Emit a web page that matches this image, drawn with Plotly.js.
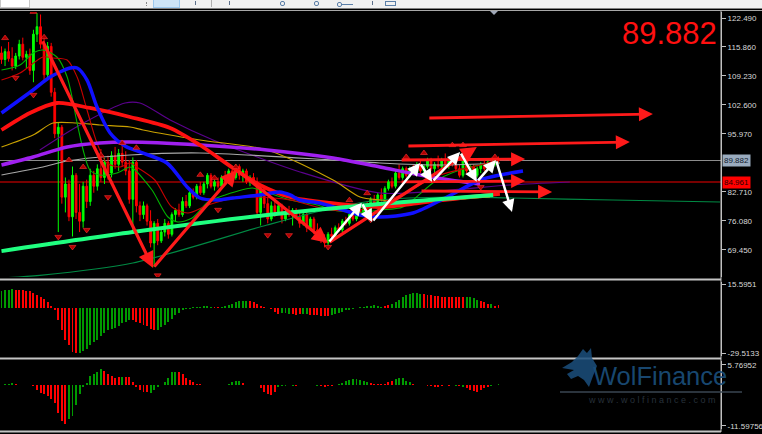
<!DOCTYPE html>
<html><head><meta charset="utf-8">
<script src="https://cdn.plot.ly/plotly-3.0.1.min.js"></script>
<style>
html,body{margin:0;padding:0;background:#000;width:762px;height:434px;overflow:hidden;}
#chart{position:absolute;left:0;top:0;width:762px;height:434px;}
#tb{position:absolute;left:0;top:0;width:762px;height:8px;background:#f0f0f0;border-bottom:1px solid #808080;z-index:5;}
.b{position:absolute;top:0;}
</style></head><body>
<div id="chart"></div>
<div id="tb">
  <div class="b" style="left:0;width:28px;height:7px;background:#fff;border:1px solid #c8c8c8;border-top:none"></div>
  <div class="b" style="left:146px;top:2px;width:2px;height:4px;border-left:1px dotted #888"></div>
  <div class="b" style="left:153px;width:25px;height:7px;background:#cde4f7;border:1px solid #9cc8ee;border-top:none"></div>
  <div class="b" style="left:195px;top:1px;width:1px;height:4px;background:#5b6f8a"></div>
  <div class="b" style="left:211px;width:1px;height:7px;background:#b0b0b0"></div>
  <div class="b" style="left:229px;top:1px;width:1px;height:4px;background:#5b6f8a"></div>
  <div class="b" style="left:280px;top:1px;width:3px;height:3px;border:1px solid #5b7fa8;border-radius:2px"></div>
  <div class="b" style="left:314px;top:1px;width:3px;height:3px;border:1px solid #5b7fa8;border-radius:2px"></div>
  <div class="b" style="left:337px;top:2px;width:3px;height:3px;border:1px solid #5b7fa8;border-radius:2px"></div>
  <div class="b" style="left:341px;top:4px;width:12px;height:1px;background:#5b7fa8"></div>
  <div class="b" style="left:372px;top:1px;width:1px;height:4px;background:#5b6f8a"></div>
  <div class="b" style="left:385px;top:1px;width:9px;height:3px;border:1px solid #5b7fa8"></div>
</div>
<script>
// ---------------- data ----------------
const open  = [114.5,113.0,114.8,113.2,111.5,113.8,116.5,113.5,114.2,110.5,118.8,120.5,116.5,109.5,116.0,105.5,96.0,97.5,81.5,84.5,
77.0,86.5,78.0,76.0,84.0,80.5,86.5,84.0,88.0,86.0,89.5,87.0,91.0,89.0,91.5,89.5,87.5,81.0,89.5,79.5,
77.5,79.5,76.0,71.0,75.5,71.5,73.5,75.5,73.0,77.5,78.5,77.5,80.5,79.5,82.5,81.5,84.0,82.5,84.5,86.5,
84.0,85.0,84.0,86.0,85.0,87.5,86.0,88.5,86.5,87.5,85.0,86.0,85.0,78.0,83.5,80.0,76.5,79.5,78.0,79.5,
76.5,78.0,77.5,78.5,77.0,75.5,77.5,74.5,76.5,74.0,73.0,72.0,71.0,73.0,72.5,74.5,74.0,76.0,75.5,77.5,
76.5,78.5,77.5,79.5,78.5,81.0,80.0,82.0,81.0,83.5,85.0,84.0,87.0,86.0,88.0,86.5,88.0,87.0,89.0,87.5,
88.5,90.0,88.0,89.0,88.5,90.0,89.0,90.0,89.0,88.0,86.5,91.5,87.5,88.5,86.5,88.0,89.0,88.0,89.5,89.0,90.2];
const high  = [116.0,115.5,117.0,115.8,114.5,117.5,118.0,115.0,115.5,119.8,123.6,123.3,118.5,117.0,116.8,106.5,98.5,98.0,86.0,85.5,
88.5,87.0,84.5,85.0,85.5,88.0,87.5,89.0,92.5,90.5,91.0,92.0,93.0,92.5,93.5,92.0,90.0,90.6,90.0,80.5,
80.5,80.0,78.5,76.0,76.5,74.0,76.5,76.0,78.0,79.0,80.0,81.5,82.0,83.0,83.5,84.5,85.0,85.0,87.0,87.0,
85.5,86.0,86.5,87.5,88.0,88.5,89.0,89.0,88.0,88.0,86.5,87.0,86.0,84.5,84.0,81.5,80.5,80.5,80.0,80.0,
78.5,79.5,79.0,79.0,78.5,78.0,78.0,77.0,77.0,75.5,74.0,73.0,73.5,74.5,75.0,75.5,76.5,77.0,78.0,78.5,
79.0,79.5,80.0,80.5,81.5,82.0,82.5,83.5,84.0,85.5,86.0,87.5,89.0,88.5,88.5,88.5,89.0,89.5,90.0,89.0,
90.5,90.5,89.5,91.0,90.5,91.5,90.5,91.0,90.0,89.0,92.0,92.0,89.0,89.0,88.5,89.5,90.0,90.0,90.5,90.5,90.8];
const low   = [112.0,111.5,112.5,110.5,110.8,113.0,112.8,111.0,109.5,107.8,117.0,115.5,108.0,108.5,104.5,95.0,73.5,80.0,78.0,76.0,
72.5,76.5,73.5,74.5,79.0,79.5,82.5,83.0,85.0,84.5,85.5,86.0,88.0,87.5,88.5,86.5,80.0,74.0,78.0,76.0,
76.5,75.0,70.0,65.5,70.5,71.0,72.5,72.0,72.5,76.0,77.0,77.0,79.0,79.0,81.0,81.0,82.0,82.0,83.5,83.5,
83.0,83.5,83.5,84.5,84.5,85.5,85.5,85.5,85.0,84.5,84.0,84.5,77.0,75.0,79.0,75.5,76.0,77.0,77.5,75.5,
76.0,77.0,75.0,76.5,74.5,75.0,73.5,74.0,73.0,72.5,71.0,70.0,70.5,72.0,72.0,73.5,73.5,75.0,75.0,76.0,
76.0,77.0,77.0,78.0,78.0,79.5,79.5,80.5,80.5,83.0,83.5,83.5,85.5,85.5,86.0,86.0,86.5,86.5,87.0,86.5,
88.0,87.5,87.0,88.0,88.0,88.5,88.0,88.5,87.5,86.0,86.0,87.0,86.5,86.0,86.0,87.0,87.5,87.5,88.5,88.5,89.3];
const close = [113.0,114.8,113.2,111.5,113.8,116.5,113.5,114.2,110.5,118.8,120.5,116.5,109.5,116.0,105.5,96.0,97.5,81.5,84.5,77.0,
86.5,78.0,76.0,84.0,80.5,86.5,84.0,88.0,86.0,89.5,87.0,91.0,89.0,91.5,89.5,87.5,81.0,89.5,79.5,77.5,
79.5,76.0,71.0,75.5,71.5,73.5,75.5,73.0,77.5,78.5,77.5,80.5,79.5,82.5,81.5,84.0,82.5,84.5,86.5,84.0,
85.0,84.0,86.0,85.0,87.5,86.0,88.5,86.5,87.5,85.0,86.0,85.0,78.0,83.5,80.0,76.5,79.5,78.0,79.5,76.5,
78.0,77.5,78.5,77.0,75.5,77.5,74.5,76.5,74.0,73.0,72.0,71.0,73.0,72.5,74.5,74.0,76.0,75.5,77.5,76.5,
78.5,77.5,79.5,78.5,81.0,80.0,82.0,81.0,83.5,85.0,84.0,87.0,86.0,88.0,86.5,88.0,87.0,89.0,87.5,88.5,
90.0,88.0,89.0,88.5,90.0,89.0,90.0,89.0,88.0,86.5,91.5,87.5,88.5,86.5,88.0,89.0,88.0,89.5,89.0,90.2,89.882];

// moving averages: bar positions and values
const blueX = [0,8.9,13.7,19.3,21.3,24.1,26.9,30.6,34.8,39.0,46.6,52.3,55.9,60.7,65.2,72.8,78.4,81.3,84.1,89.7,96.2,101.0,106.6,115.9,125.5,134.8,140.4,146.9];
const blueY = [100.75,106.02,108.99,111.05,111.05,108.30,102.12,96.18,93.20,91.83,89.31,83.82,81.30,80.84,81.30,81.99,82.67,81.99,80.84,80.16,78.56,77.41,76.95,77.87,81.53,85.42,86.56,87.48];
const redX  = [0,8.0,15.6,24.9,36.2,47.5,55.9,65.2,72.8,81.3,92.5,106.6,117.9,129.2,140.4];
const redY  = [96.86,100.75,103.04,101.90,99.84,97.32,93.43,88.17,84.28,81.53,80.16,79.24,80.16,81.30,82.22];
const purX  = [0,8.9,18.5,27.7,36.2,55.9,74.8,93.4,106.6,117.9,126.3,134.8];
const purY  = [88.85,90.68,92.97,93.89,94.12,93.43,92.29,90.45,88.39,86.56,85.42,84.50];
const grayX = [0,11.7,18.5,36.2,55.9,93.4,106.6,123.5,140.4];
const grayY = [86.56,88.39,89.77,91.14,91.60,90.00,89.31,88.85,89.31];
const yelX  = [0,8.9,14.5,21.3,27.7,36.2,39.9,55.9,74.8,93.4,101.0,106.6,115.9,126.3,137.6];
const yelY  = [92.97,95.72,98.46,98.46,98.01,97.55,96.86,94.57,92.29,85.42,81.53,80.84,80.39,80.84,81.53];
const dpurX = [10.8,22.1,34.8,39.0,47.5,59.6,84.1,106.6,126.3,143.2,160.1];
const dpurY = [92.29,98.01,103.04,103.04,99.15,94.57,87.25,82.45,83.13,84.28,84.96];
const sgrX  = [0,37.0,74.8,106.6,138.5];
const sgrY  = [69.17,73.52,77.41,79.93,81.99];
const dgrX  = [0,10.8,37.0,74.8,93.4,106.6,126.3,144.1,172.3,202.4];
const dgrY  = [63.0,63.6,66.43,75.12,79.01,80.84,81.53,81.30,80.84,80.39];
const fgrX  = [0,5.2,8.9,11.7,15.6,18.5,21.3,23.0,24.9,27.7,32.5,36.2,37.6,42.4,46.9,49.7,53.7,58.2,63.0,70.6,72.8,81.3,88.9,93.4,98.2,102.4,106.6,113.1,122.7,132.0,140.0];
const fgrY  = [110.59,111.74,114.48,115.17,113.57,108.99,98.46,92.29,87.71,86.56,87.02,88.39,87.71,83.13,76.95,75.81,76.72,80.39,81.99,83.59,83.13,80.84,79.70,78.56,78.10,78.10,78.56,79.24,85.42,88.39,89.31];
const drdX  = [0,5.2,11.7,14.5,18.5,21.3,24.1,26.9,29.7,33.4,36.2,38.5,43.2,48.0,52.5,58.2,65.8,71.4,81.3,92.5,101.0,112.3,123.5,134.8,140.0];
const drdY  = [108.30,109.90,113.57,113.34,112.88,108.99,101.44,93.89,89.31,88.39,89.31,88.17,85.42,79.24,77.87,79.70,81.30,81.53,80.84,78.56,78.56,81.99,86.56,88.85,90.00];

// fractal arrows
const upX = [1,9,12,19,23,28,34,38,56,60,66,98,103,114,119,127,130,139];
const upY = [117.9,123.9,118.1,90.0,88.4,91.1,93.9,92.8,86.6,85.9,88.4,80.8,82.4,90.7,91.6,93.4,93.4,90.7];
const dnX = [4,9,16,20,24,30,44,61,75,81,92,104,135];
const dnY = [108.8,104.9,72.4,70.1,74.0,81.5,63.6,78.6,72.8,72.8,70.1,76.3,83.8];

// zigzag and arrows
const zigX = [11.4,42.7,66.3,92.0,133.9];
const zigY = [117.5,65.3,87.7,71.0,93.0];
const wX = [92.0,101.5,104.4,117.9,121.3,129.2,133.9,139.3,143.8];
const wY = [71.0,80.2,75.8,89.3,85.0,91.8,85.0,90.0,78.1];
const hX0 = [120.1,114.2,112.3,112.3,117.9];
const hY0 = [99.6,93.2,90.0,85.0,82.9];
const hX1 = [183.5,177.0,147.5,147.5,155.1];
const hY1 = [100.5,94.1,90.2,85.2,82.7];

const bidPrice = 89.882, levelPrice = 84.961;
const mainTicks = [69.45,76.08,82.71,95.97,102.60,109.23,115.86,122.49];

// MACD histogram
const macd = [11.0,11.5,12.0,12.5,11.8,11.5,11.5,11.0,11.0,9.4,8.3,6.8,6.1,3.9,1.1,-1.5,-8.0,-14.6,-20.7,-24.4,
-28.8,-29.4,-29.4,-28.1,-26.6,-24.4,-22.2,-20.7,-18.5,-16.3,-14.6,-13.5,-12.9,-12.0,-10.2,-9.2,-8.1,-8.1,-9.2,-10.2,
-11.3,-12.0,-13.5,-14.6,-14.2,-12.4,-11.3,-9.2,-7.0,-4.8,-3.3,-1.5,-0.9,-0.7,0.4,0.6,0.8,0.9,0.9,0.8,
0.7,0.6,0.8,1.0,1.6,2.8,3.9,4.6,4.8,4.8,4.4,3.9,2.6,1.5,0.6,-0.4,-1.0,-2.6,-3.7,-3.5,
-3.5,-3.7,-4.1,-4.4,-4.3,-4.0,-4.2,-4.4,-4.6,-4.8,-5.0,-5.2,-5.0,-4.6,-4.0,-3.1,-2.4,-1.7,-1.1,-0.6,
-0.3,0.3,0.6,0.9,1.3,1.7,1.2,0.8,1.1,1.7,2.4,3.9,5.4,7.2,8.3,8.9,9.4,9.4,9.3,9.0,
8.6,8.3,8.0,7.8,7.2,7.2,6.8,6.8,7.2,7.2,7.3,6.8,6.8,6.4,5.4,4.6,3.9,2.8,2.4,1.1,2.0];
const macdCol = "ggggrrrrrrrrrrrrrrrrrrggggggggggggggg rrrrrrrggggggggggggggggrrggggggggrrrrrrrrrgggrrrggrrrrrrgggggggggggggggrrgggggggggrrrrrrrrrrrrggggrrrgrrrrg".replace(/ /g,'');

// OsMA histogram
const osma = [0.2,0.3,0.3,0.6,0.3,0.2,0.2,0.1,0.1,-0.3,-1.3,-2.2,-2.6,-3.1,-3.9,-5.0,-7.9,-10.1,-11.0,-9.6,
-8.8,-5.7,-2.6,-0.4,0.6,2.6,3.3,3.9,4.6,4.1,3.1,2.6,2.2,2.4,2.4,2.4,2.4,0.9,-0.4,-1.3,
-1.8,-1.9,-2.2,-1.3,-0.6,0.1,0.9,2.2,3.9,3.9,3.9,3.1,2.2,1.6,0.9,0.4,0.3,0.2,0.2,0.1,
0.2,0.2,0.1,0.2,0.3,0.9,1.1,1.3,0.6,0.1,0.1,0.1,0.1,-0.9,-1.8,-2.4,-2.9,-1.8,-0.6,-0.2,
-0.1,0.1,-0.3,-0.1,0.1,0.1,0.2,0.1,0.1,-0.2,-0.3,-0.4,-0.3,-0.1,0.1,0.3,0.6,1.1,1.5,1.8,
1.8,1.6,1.1,0.9,0.6,0.4,0.3,0.3,0.4,0.9,1.3,1.8,2.2,2.0,1.3,0.9,0.3,0.1,0.1,0.1,
-0.1,-0.2,-0.4,-0.4,-0.3,0.1,-0.1,0.1,-0.1,-0.3,-0.4,-0.9,-1.3,-1.5,-1.8,-1.3,-0.9,-0.5,-0.2,0.2,0.3];
const osmaCol = "ggggrrrrrrrrrrrrrrrggggggggggrrrrrgrrrrrrrggggggggrrrrrrrrrrgrrgggggrrrrgrrrrrgggggrggggrgrrrrggggggggggrrrrrrrgggggrrrrrrrrrrrrgrgrrrrrrrggggggg";

// ---------------- build ----------------
const idx = close.map((_, i) => i);
const GREEN = '#009a00', RED = '#ff0000';
function cols(s, n){ const a=[]; for(let i=0;i<n;i++){ a.push((s[i]||'g')==='g'?GREEN:RED);} return a; }

function ma(x, y, color, width){
  return {type:'scatter', mode:'lines', x:x, y:y, line:{color:color, width:width, shape:'spline', smoothing:0.8}, hoverinfo:'skip'};
}

const traces = [
  ma(dgrX, dgrY, '#008a44', 1.2),
  ma(dpurX, dpurY, '#5a008c', 1.2),
  ma(grayX, grayY, '#a8a8a8', 1.2),
  ma(yelX, yelY, '#c8a000', 1.2),
  {type:'candlestick', x:idx, open:open, high:high, low:low, close:close,
   increasing:{line:{color:'#00ff00', width:1}, fillcolor:'#00ff00'},
   decreasing:{line:{color:'#ff0000', width:1}, fillcolor:'#ff0000'},
   whiskerwidth:0, hoverinfo:'skip'},
  ma(fgrX, fgrY, '#00b400', 1.1),
  ma(drdX, drdY, '#c80000', 1.1),
  ma(purX, purY, '#a020f0', 3.5),
  ma(redX, redY, '#ff1010', 3.8),
  ma(blueX, blueY, '#1010ff', 3.5),
  ma(sgrX, sgrY, '#20ff80', 3.8),
  {type:'scatter', mode:'markers', x:upX, y:upY, marker:{symbol:'triangle-up', size:6, color:'#b00000', line:{color:'#ff3030', width:0.6}}, hoverinfo:'skip'},
  {type:'scatter', mode:'markers', x:dnX, y:dnY, marker:{symbol:'triangle-down', size:6, color:'#b00000', line:{color:'#ff3030', width:0.6}}, hoverinfo:'skip'},
  {type:'bar', x:idx, y:macd, yaxis:'y2', width:0.55, marker:{color:cols(macdCol, macd.length), line:{width:0}}, hoverinfo:'skip'},
  {type:'bar', x:idx, y:osma, yaxis:'y3', width:0.55, marker:{color:cols(osmaCol, osma.length), line:{width:0}}, hoverinfo:'skip'}
];

const PW = 721;
const px = x => x / PW;
const py = y => 1 - (y - 10) / 421;

const axisBase = {side:'right', showgrid:false, zeroline:false, showline:true, linecolor:'#c0c0c0', linewidth:1,
  ticks:'outside', ticklen:4, tickcolor:'#c0c0c0', tickfont:{family:'Liberation Sans, Arial', size:8, color:'#d8d8d8'}, fixedrange:true};

const annotations = [];
// red zigzag
for (let i = 1; i < zigX.length; i++) {
  annotations.push({x:zigX[i], y:zigY[i], ax:zigX[i-1], ay:zigY[i-1], xref:'x', yref:'y', axref:'x', ayref:'y',
    text:'', showarrow:true, arrowhead:2, arrowsize:1, arrowwidth:3.2, arrowcolor:'#ff1a1a', standoff:0});
}
// horizontal red arrows
for (let i = 0; i < hX0.length; i++) {
  annotations.push({x:hX1[i], y:hY1[i], ax:hX0[i], ay:hY0[i], xref:'x', yref:'y', axref:'x', ayref:'y',
    text:'', showarrow:true, arrowhead:2, arrowsize:1, arrowwidth:2.8, arrowcolor:'#ff1a1a', standoff:0});
}
// white zigzag
for (let i = 1; i < wX.length; i++) {
  annotations.push({x:wX[i], y:wY[i], ax:wX[i-1], ay:wY[i-1], xref:'x', yref:'y', axref:'x', ayref:'y',
    text:'', showarrow:true, arrowhead:2, arrowsize:1, arrowwidth:2.5, arrowcolor:'#ffffff', standoff:0});
}
// big price
annotations.push({xref:'paper', yref:'paper', x:px(719), y:py(34), xanchor:'right', yanchor:'middle', showarrow:false,
  text:bidPrice.toFixed(3), font:{family:'Liberation Sans, Arial', size:31, color:'#ff1010'}});
// price labels on axis
annotations.push({xref:'paper', yref:'y', x:px(722), y:bidPrice, xanchor:'left', yanchor:'middle', showarrow:false,
  text:bidPrice.toFixed(3), bgcolor:'#9aabbe', borderpad:1, font:{family:'Liberation Sans, Arial', size:8, color:'#10202e'}});
annotations.push({xref:'paper', yref:'y', x:px(722), y:levelPrice, xanchor:'left', yanchor:'middle', showarrow:false,
  text:levelPrice.toFixed(3), bgcolor:'#ff0000', borderpad:1, font:{family:'Liberation Sans, Arial', size:8, color:'#2a0000'}});
// watermark
annotations.push({xref:'paper', yref:'paper', x:px(591), y:py(376), xanchor:'left', yanchor:'middle', showarrow:false,
  text:'WolFinance', font:{family:'Liberation Sans, Arial', size:25.5, color:'#1b4f7c'}, opacity:0.9});
annotations.push({xref:'paper', yref:'paper', x:px(652), y:py(400), xanchor:'center', yanchor:'middle', showarrow:false,
  text:'w w w . w o l f i n a n c e . c o m', font:{family:'Liberation Sans, Arial', size:9, color:'#27313b'}});

const logoPts = [[562,368],[572,362],[578,356],[583,349],[587,353],[591,348],[592,358],[597,366],[593,376],[589,387],[584,380],[578,376],[571,379],[567,374],[574,370]];
const logoPath = 'M' + logoPts.map(p => px(p[0]).toFixed(4) + ',' + py(p[1]).toFixed(4)).join(' L') + ' Z';

const shapes = [
  {type:'line', xref:'paper', yref:'y', x0:0, x1:1, y0:bidPrice, y1:bidPrice, line:{color:'#8c8c8c', width:1}, layer:'below'},
  {type:'line', xref:'paper', yref:'y', x0:0, x1:1, y0:levelPrice, y1:levelPrice, line:{color:'#a00000', width:1.5}, layer:'below'},
  {type:'line', xref:'paper', yref:'paper', x0:0, x1:1, y0:py(279.5), y1:py(279.5), line:{color:'#c4c4c4', width:2}},
  {type:'line', xref:'paper', yref:'paper', x0:0, x1:1, y0:py(358.5), y1:py(358.5), line:{color:'#c4c4c4', width:2}},
  {type:'line', xref:'paper', yref:'paper', x0:0, x1:1, y0:py(431.5), y1:py(431.5), line:{color:'#c4c4c4', width:2}},
  {type:'line', xref:'paper', yref:'paper', x0:0, x1:762/PW, y0:py(10.5), y1:py(10.5), line:{color:'#a8a8a8', width:1}},
  {type:'line', xref:'paper', yref:'paper', x0:1, x1:1, y0:py(11), y1:py(432), line:{color:'#c0c0c0', width:1}},
  {type:'path', xref:'paper', yref:'paper', path:'M' + px(490) + ',' + py(11) + ' L' + px(498) + ',' + py(11) + ' L' + px(494) + ',' + py(15) + ' Z', fillcolor:'#a0a8b8', line:{width:0}},
  {type:'path', xref:'paper', yref:'paper', path:logoPath, fillcolor:'#1b4f7c', opacity:0.85, line:{width:0}},
  {type:'line', xref:'paper', yref:'paper', x0:px(560), x1:px(742), y0:py(392), y1:py(392), line:{color:'#3a4652', width:1.5}}
];

const layout = {
  width:762, height:434, margin:{l:0, r:41, t:10, b:3}, paper_bgcolor:'#000', plot_bgcolor:'#000', showlegend:false,
  xaxis:{range:[-0.42, 202.68], visible:false, fixedrange:true, rangeslider:{visible:false}},
  yaxis:Object.assign({}, axisBase, {domain:[0.3658, 0.9952], range:[63.222, 123.863],
    tickvals:mainTicks, ticktext:mainTicks.map(v => v.toFixed(3))}),
  yaxis2:Object.assign({}, axisBase, {domain:[0.1781, 0.3539], range:[-31.4745, 16.9026], anchor:'x',
    tickvals:[15.5951, -29.5133], ticktext:['15.5951', '-29.5133']}),
  yaxis3:Object.assign({}, axisBase, {domain:[0.00475, 0.1663], range:[-12.452, 6.908], anchor:'x',
    tickvals:[5.76952, -11.59756], ticktext:['5.76952', '-11.59756']}),
  bargap:0, annotations:annotations, shapes:shapes
};

Plotly.newPlot('chart', traces, layout, {displayModeBar:false, staticPlot:true});
</script></body></html>
